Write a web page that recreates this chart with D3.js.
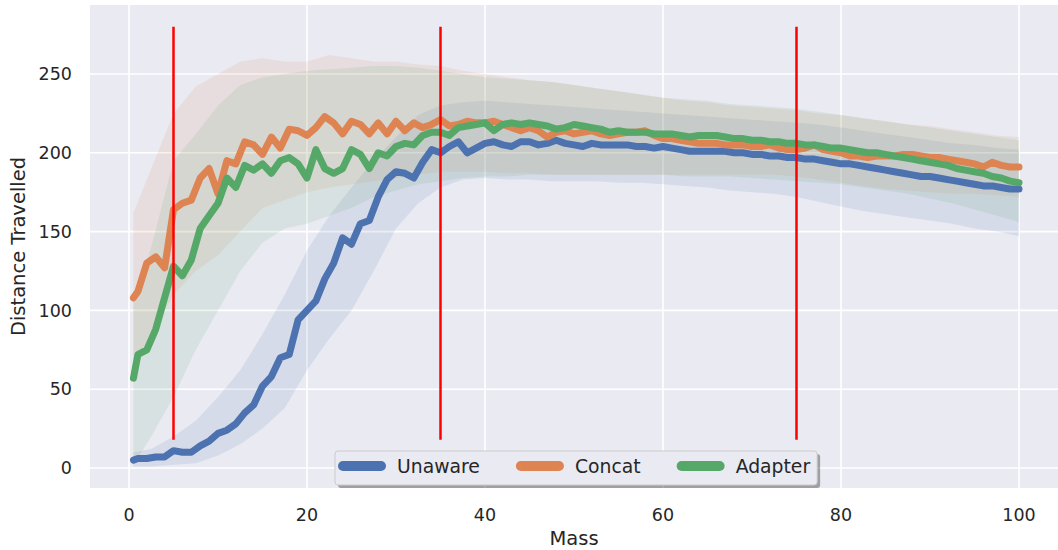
<!DOCTYPE html>
<html>
<head>
<meta charset="utf-8">
<script src="https://cdn.jsdelivr.net/npm/d3@7"></script>
<style>
  html, body { margin: 0; padding: 0; background: #fff; }
  svg { display: block; font-family: 'DejaVu Sans', sans-serif; }
</style>
</head>
<body>
<svg id="chart"></svg>
<script>
    'use strict';

    // mean curves, sampled at 0.5 then every unit of mass
    var mass = [0.5].concat(d3.range(1, 101));

    var unaware = [5, 6, 6, 7, 7, 11, 10, 10, 14, 17, 22, 24, 28, 35, 40, 52, 58, 70, 72, 94,
        100, 106, 120, 130, 146, 142, 155, 157, 172, 183, 188, 187, 184, 194, 202, 200, 204, 207, 200, 203,
        206, 207, 205, 204, 207, 207, 205, 206, 208, 206, 205, 204, 206, 205, 205, 205, 205, 204, 204, 203,
        204, 203, 202, 201, 201, 201, 201, 201, 200, 200, 199, 199, 198, 198, 197, 197, 196, 196, 195, 194,
        193, 193, 192, 191, 190, 189, 188, 187, 186, 185, 185, 184, 183, 182, 181, 180, 179, 179, 178, 177,
        177];

    var concat = [108, 112, 130, 134, 127, 164, 168, 170, 184, 190, 174, 195, 193, 207, 205, 199, 210, 203, 215, 214,
        211, 216, 223, 219, 212, 220, 218, 212, 219, 212, 220, 214, 219, 216, 218, 221, 217, 218, 220, 219,
        219, 220, 218, 216, 214, 216, 214, 210, 213, 214, 212, 213, 214, 212, 211, 212, 213, 213, 214, 211,
        209, 209, 208, 207, 206, 206, 206, 205, 205, 205, 204, 204, 205, 203, 202, 202, 203, 205, 202, 201,
        200, 198, 198, 197, 198, 198, 198, 199, 199, 198, 197, 197, 196, 195, 194, 193, 191, 194, 192, 191,
        191];

    var adapter = [57, 72, 75, 88, 108, 128, 122, 132, 152, 160, 168, 184, 178, 192, 189, 193, 187, 195, 197, 193,
        184, 202, 190, 187, 190, 202, 199, 190, 200, 198, 204, 206, 205, 211, 213, 213, 211, 216, 217, 218,
        219, 214, 218, 219, 218, 219, 218, 217, 215, 216, 218, 217, 216, 215, 213, 214, 213, 213, 213, 212,
        212, 212, 211, 210, 211, 211, 211, 210, 209, 209, 208, 208, 207, 207, 206, 206, 205, 205, 204, 203,
        203, 202, 201, 200, 200, 199, 198, 197, 196, 195, 194, 193, 192, 190, 189, 188, 187, 185, 184, 182,
        181];

    // confidence bands, sampled more coarsely
    var bandMass = [0.5].concat(d3.range(2.5, 100.1, 2.5));

    var unawareLo = [1, 1, 2, 3, 8, 15, 25, 38, 62, 82, 100, 125, 152, 168, 178, 183, 184, 183, 183, 182,
        182, 182, 181, 181, 180, 179, 178, 176, 175, 174, 172, 169, 166, 163, 161, 159, 157, 155, 152, 150, 147];
    var unawareHi = [10, 12, 20, 30, 45, 62, 85, 110, 138, 160, 178, 195, 210, 224, 230, 232, 233, 232, 231, 230,
        229, 228, 227, 226, 225, 224, 223, 222, 221, 220, 219, 218, 216, 214, 212, 210, 208, 206, 205, 203, 202];

    var concatLo = [60, 85, 110, 125, 135, 150, 165, 170, 175, 178, 180, 182, 184, 186, 188, 188, 188, 187, 187, 186,
        186, 186, 186, 186, 186, 186, 186, 186, 186, 186, 185, 183, 181, 179, 177, 176, 175, 174, 174, 173, 172];
    var concatHi = [162, 190, 225, 242, 250, 258, 260, 258, 258, 262, 260, 258, 258, 256, 255, 252, 250, 248, 246, 245,
        243, 241, 239, 237, 235, 233, 232, 230, 229, 228, 227, 225, 224, 222, 220, 218, 217, 215, 213, 211, 210];

    var adapterLo = [2, 20, 45, 75, 100, 125, 143, 152, 155, 160, 165, 172, 176, 180, 182, 184, 185, 185, 186, 186,
        186, 186, 186, 186, 186, 185, 185, 185, 184, 183, 182, 181, 180, 178, 176, 174, 171, 168, 164, 160, 156];
    var adapterHi = [105, 140, 195, 212, 230, 243, 248, 250, 252, 253, 254, 255, 255, 254, 252, 250, 248, 247, 246, 245,
        243, 241, 239, 237, 235, 234, 233, 231, 230, 229, 228, 226, 224, 222, 220, 218, 216, 214, 212, 210, 208];

    var seriesNames = ['Unaware', 'Concat', 'Adapter'];
    var xTicks = [0, 20, 40, 60, 80, 100];
    var yTicks = [0, 50, 100, 150, 200, 250];
    var markers = [5, 35, 75];

    var width = 1058;
    var height = 550;
    var plot = {left: 90, top: 5, right: 1058, bottom: 488};
    var colors = ['#4c72b0', '#dd8452', '#55a868'];

    var series = [
        {name: seriesNames[0], mean: unaware, lo: unawareLo, hi: unawareHi, color: colors[0]},
        {name: seriesNames[1], mean: concat, lo: concatLo, hi: concatHi, color: colors[1]},
        {name: seriesNames[2], mean: adapter, lo: adapterLo, hi: adapterHi, color: colors[2]}
    ];

    var svg = d3.select('#chart')
        .attr('width', width)
        .attr('height', height);

    var x = d3.scaleLinear().domain([0, 100]).range([129, 1019]);
    var y = d3.scaleLinear().domain([0, 250]).range([468, 74]);

    svg.append('defs').append('clipPath')
        .attr('id', 'clip')
        .append('rect')
        .attr('x', plot.left)
        .attr('y', plot.top)
        .attr('width', plot.right - plot.left)
        .attr('height', plot.bottom - plot.top);

    svg.append('rect')
        .attr('x', plot.left)
        .attr('y', plot.top)
        .attr('width', plot.right - plot.left)
        .attr('height', plot.bottom - plot.top)
        .attr('fill', '#eaeaf2');

    // grid
    svg.append('g')
        .selectAll('line')
        .data(xTicks)
        .enter().append('line')
        .attr('x1', function(d) { return x(d); })
        .attr('x2', function(d) { return x(d); })
        .attr('y1', plot.top)
        .attr('y2', plot.bottom)
        .attr('stroke', '#fff')
        .attr('stroke-width', 1.6);

    svg.append('g')
        .selectAll('line')
        .data(yTicks)
        .enter().append('line')
        .attr('x1', plot.left)
        .attr('x2', plot.right)
        .attr('y1', function(d) { return y(d); })
        .attr('y2', function(d) { return y(d); })
        .attr('stroke', '#fff')
        .attr('stroke-width', 1.6);

    var body = svg.append('g').attr('clip-path', 'url(#clip)');

    var area = d3.area()
        .x(function(d, i) { return x(bandMass[i]); })
        .y0(function(d) { return y(d[0]); })
        .y1(function(d) { return y(d[1]); });

    var line = d3.line()
        .x(function(d, i) { return x(mass[i]); })
        .y(function(d) { return y(d); });

    series.forEach(function(s) {
        body.append('path')
            .datum(d3.zip(s.lo, s.hi))
            .attr('d', area)
            .attr('fill', s.color)
            .attr('fill-opacity', 0.12);
    });

    series.forEach(function(s) {
        body.append('path')
            .datum(s.mean)
            .attr('d', line)
            .attr('fill', 'none')
            .attr('stroke', s.color)
            .attr('stroke-width', 7)
            .attr('stroke-linejoin', 'round')
            .attr('stroke-linecap', 'round');
    });

    // red markers, axvline style (10% to 95% of the axes height)
    var ph = plot.bottom - plot.top;
    svg.append('g')
        .selectAll('line')
        .data(markers)
        .enter().append('line')
        .attr('x1', function(d) { return x(d); })
        .attr('x2', function(d) { return x(d); })
        .attr('y1', plot.bottom - 0.1 * ph)
        .attr('y2', plot.bottom - 0.955 * ph)
        .attr('stroke', '#ff0000')
        .attr('stroke-width', 2.5);

    // tick labels
    svg.append('g')
        .selectAll('text')
        .data(xTicks)
        .enter().append('text')
        .attr('x', function(d) { return x(d); })
        .attr('y', 521)
        .attr('text-anchor', 'middle')
        .attr('font-size', 17.5)
        .attr('fill', '#262626')
        .text(function(d) { return d; });

    svg.append('g')
        .selectAll('text')
        .data(yTicks)
        .enter().append('text')
        .attr('x', 72)
        .attr('y', function(d) { return y(d); })
        .attr('dy', '0.35em')
        .attr('text-anchor', 'end')
        .attr('font-size', 17.5)
        .attr('fill', '#262626')
        .text(function(d) { return d; });

    svg.append('text')
        .attr('x', (plot.left + plot.right) / 2)
        .attr('y', 545)
        .attr('text-anchor', 'middle')
        .attr('font-size', 19.5)
        .attr('fill', '#262626')
        .text('Mass');

    svg.append('text')
        .attr('transform', 'translate(25,' + (plot.top + plot.bottom) / 2 + ') rotate(-90)')
        .attr('text-anchor', 'middle')
        .attr('font-size', 19.5)
        .attr('fill', '#262626')
        .text('Distance Travelled');

    // legend
    var legend = svg.append('g');
    var shadow = legend.append('rect');
    var frame = legend.append('rect');
    var lx = 335, ly = 451, lh = 34;
    var cx = lx + 8;
    series.forEach(function(s) {
        legend.append('line')
            .attr('x1', cx)
            .attr('x2', cx + 38)
            .attr('y1', ly + 15)
            .attr('y2', ly + 15)
            .attr('stroke', s.color)
            .attr('stroke-width', 10)
            .attr('stroke-linecap', 'round');
        var t = legend.append('text')
            .attr('x', cx + 54)
            .attr('y', ly + 15)
            .attr('dy', '0.35em')
            .attr('font-size', 18.8)
            .attr('fill', '#262626')
            .text(s.name);
        cx = cx + 54 + t.node().getComputedTextLength() + 41;
    });
    var lw = cx - 41 + 7 - lx;
    shadow.attr('x', lx + 3).attr('y', ly + 3).attr('width', lw).attr('height', lh)
        .attr('rx', 3).attr('fill', '#000').attr('fill-opacity', 0.32);
    frame.attr('x', lx).attr('y', ly).attr('width', lw).attr('height', lh)
        .attr('rx', 3).attr('fill', '#eaeaf2').attr('stroke', '#cccccc').attr('stroke-width', 1);
</script>
</body>
</html>
